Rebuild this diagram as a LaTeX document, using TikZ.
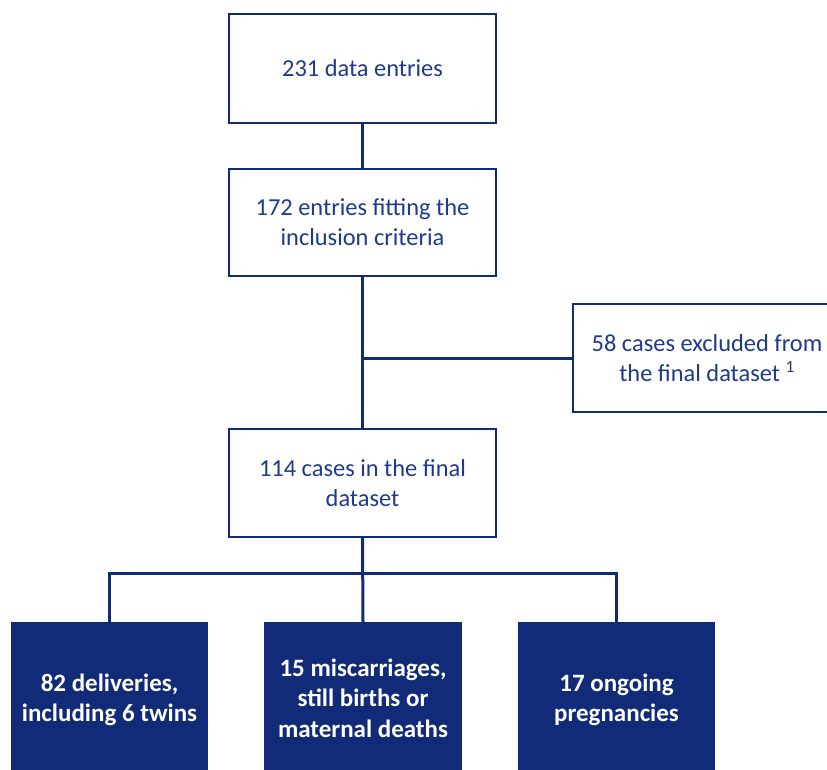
\documentclass[tikz,border=0pt]{standalone}
\usepackage{fontspec}
\setmainfont{Carlito}
\definecolor{navy}{HTML}{112B78}
\definecolor{txtblue}{HTML}{1F3A8A}
\begin{document}
\begin{tikzpicture}[x=1pt,y=-1pt,
  outbox/.style={draw=navy,line width=2pt,fill=white,text=txtblue,align=center,
    font=\fontsize{24.4}{30}\selectfont,inner sep=0pt},
  fillbox/.style={fill=navy,text=white,align=center,
    font=\fontsize{25}{30.5}\selectfont\bfseries,inner sep=0pt},
  conn/.style={draw=navy,line width=3pt}]
\useasboundingbox (0,0) rectangle (827,769);
\clip (0,0) rectangle (827,769);
\node[outbox,minimum width=267pt,minimum height=109pt] (a) at (362.5,68.5) {231 data entries};
\node[outbox,minimum width=267pt,minimum height=107pt] (b) at (362.5,222.5) {172 entries fitting the\\inclusion criteria};
\node[outbox,minimum width=267pt,minimum height=108pt] (d) at (362.5,483) {114 cases in the final\\dataset};
\node[outbox,minimum width=270pt,minimum height=108pt,anchor=west] (c) at (572,358) {};
\node[text=txtblue,align=center,font=\fontsize{24.4}{30}\selectfont,inner sep=0pt] (ct) at (707,358) {58 cases excluded from\\the final dataset \textsuperscript{1}};
\node[fillbox,minimum width=197pt,minimum height=160pt,anchor=north] (e) at (109.5,622) {};
\node[fillbox,minimum width=198pt,minimum height=160pt,anchor=north] (f) at (363,622) {};
\node[fillbox,minimum width=197pt,minimum height=160pt,anchor=north] (g) at (616.5,622) {};
\node[fillbox] (et) at (109.5,700) {82 deliveries,\\including 6 twins};
\node[fillbox] (ft) at (363,698) {15 miscarriages,\\still births or\\maternal deaths};
\node[fillbox] (gt) at (616.5,700) {17 ongoing\\pregnancies};
\coordinate (j1) at (362.5,358);
\coordinate (j2) at (362.5,573);
\draw[conn] (a.south) -- (b.north);
\draw[conn] (b.south) -- (d.north);
\draw[conn] (j1) -- (c.west);
\draw[conn] (d.south) -- (f.north);
\draw[conn] (e.north) -- (e.north |- j2) -- (g.north |- j2) -- (g.north);
\end{tikzpicture}
\end{document}
